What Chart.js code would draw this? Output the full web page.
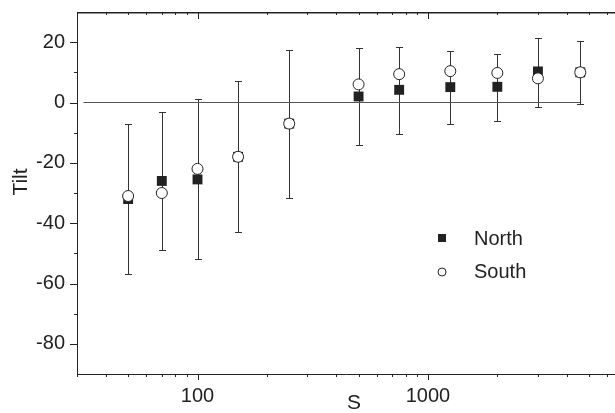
<!DOCTYPE html>
<html>
<head>
<meta charset="utf-8">
<script src="https://cdn.jsdelivr.net/npm/chart.js@4/dist/chart.umd.min.js"></script>
<style>
  html, body { margin: 0; padding: 0; background: #fff; overflow: hidden; }
  canvas { display: block; }
</style>
</head>
<body>
<canvas id="myChart" width="615" height="413"></canvas>
<script>
// values
const sizes = [50, 70, 100, 150, 250, 500, 750, 1250, 2000, 3000, 4580]
const north = [-32, -26, -25.5, -18, -7, 2, 4.2, 5.1, 5.2, 10.3, 10]
const south = [-31, -30, -22, -18, -7, 6, 9.4, 10.4, 9.8, 8, 10]
const northHigh = [-7, -3, 1, 7, 17.5, 18, 18.5, 17, 16.2, 21.4, 20.5]
const northLow = [-57, -49, -52, -43, -31.5, -14, -10.5, -7, -6, -1.5, -0.5]
const zeroLineX = [32, 4580]

const xMajor = [100, 1000]
const xMinor = [30, 40, 50, 60, 70, 80, 90, 200, 300, 400, 500, 600, 700, 800, 900, 2000, 3000, 4000, 5000, 6000]
const yMajor = [-80, -60, -40, -20, 0, 20]
const yMinor = [-70, -50, -30, -10, 10]
const yTop = 30

const FONT = "'Liberation Sans', Arial, sans-serif"
const INK = '#222'

const toPoints = (xs, ys) => xs.map((x, i) => ({ x: x, y: ys[i] }))

// frame top and tick marks of different lengths, placed through the scales
const tickMarks = {
  id: 'tickMarks',
  afterDraw(chart) {
    const ctx = chart.ctx
    const x = chart.scales.x
    const y = chart.scales.y
    const left = Math.round(x.getPixelForValue(xMinor[0]))
    const right = chart.width
    const top = Math.round(y.getPixelForValue(yTop))
    const bottom = Math.round(y.getPixelForValue(-90))
    ctx.save()
    ctx.fillStyle = INK
    // top frame line
    ctx.fillRect(left, top, right - left, 1.5)
    xMajor.concat(xMinor).forEach(v => {
      const big = xMajor.includes(v)
      const px = Math.round(x.getPixelForValue(v))
      ctx.fillRect(px, bottom, 1, big ? 6 : 3)
      ctx.fillRect(px, top, 1, big ? 7 : 3)
    })
    yMajor.concat(yMinor).forEach(v => {
      const big = yMajor.includes(v)
      const py = Math.round(y.getPixelForValue(v))
      const len = big ? 7 : 3
      ctx.fillRect(left - len, py, len, 1)
    })

    // axis titles
    ctx.font = '21px ' + FONT
    ctx.textAlign = 'center'
    ctx.textBaseline = 'middle'
    ctx.fillText('S', 354, 403)
    ctx.translate(21, 182)
    ctx.rotate(-Math.PI / 2)
    ctx.fillText('Tilt', 0, 0)
    ctx.restore()
  }
}

// error bars on the North series
const errorBars = {
  id: 'errorBars',
  beforeDatasetsDraw(chart) {
    const ctx = chart.ctx
    const x = chart.scales.x
    const y = chart.scales.y
    ctx.save()
    ctx.strokeStyle = '#333'
    ctx.lineWidth = 1
    ctx.beginPath()
    sizes.forEach((s, i) => {
      const px = Math.round(x.getPixelForValue(s)) + 0.5
      const hi = Math.round(y.getPixelForValue(northHigh[i])) + 0.5
      const lo = Math.round(y.getPixelForValue(northLow[i])) + 0.5
      ctx.moveTo(px, hi); ctx.lineTo(px, lo)
      ctx.moveTo(px - 3.5, hi); ctx.lineTo(px + 3.5, hi)
      ctx.moveTo(px - 3.5, lo); ctx.lineTo(px + 3.5, lo)
    })
    ctx.stroke()
    ctx.restore()
  }
}

// legend sitting inside the plot
const insideLegend = {
  id: 'insideLegend',
  afterDraw(chart) {
    const ctx = chart.ctx
    const ds = chart.data.datasets
    ctx.save()
    ctx.font = '20px ' + FONT
    ctx.textBaseline = 'middle'
    ctx.textAlign = 'left'
    ctx.fillStyle = INK
    ctx.fillRect(438, 234, 8, 8)
    ctx.fillText(ds[1].label, 474, 239)
    ctx.beginPath()
    ctx.arc(442, 272, 4, 0, Math.PI * 2)
    ctx.fillStyle = '#fff'
    ctx.fill()
    ctx.strokeStyle = INK
    ctx.lineWidth = 1
    ctx.stroke()
    ctx.fillStyle = INK
    ctx.fillText(ds[0].label, 474, 272)
    ctx.restore()
  }
}

const ctx = document.getElementById('myChart').getContext('2d')
const chart = new Chart(ctx, {
  type: 'scatter',
  data: {
    datasets: [
      {
        label: 'South',
        data: toPoints(sizes, south),
        pointStyle: 'circle',
        pointRadius: 5.5,
        backgroundColor: '#fff',
        borderColor: INK,
        borderWidth: 1,
        order: 0
      },
      {
        label: 'North',
        data: toPoints(sizes, north),
        pointStyle: 'rect',
        pointRadius: 7,
        backgroundColor: INK,
        borderColor: INK,
        borderWidth: 0,
        order: 1
      },
      {
        label: 'zero',
        data: toPoints(zeroLineX, [0, 0]),
        showLine: true,
        borderColor: '#555',
        borderWidth: 1,
        pointRadius: 0,
        order: 2
      }
    ]
  },
  options: {
    responsive: false,
    animation: false,
    devicePixelRatio: 1,
    layout: { autoPadding: false, padding: { top: 12, left: 0, right: 0, bottom: 0 } },
    plugins: {
      legend: { display: false },
      tooltip: { enabled: false }
    },
    scales: {
      x: {
        type: 'logarithmic',
        position: 'bottom',
        min: 30,
        max: 6480,
        afterBuildTicks: s => { s.ticks = xMajor.concat(xMinor).map(v => ({ value: v })) },
        afterFit: s => { s.height = 39; s.paddingLeft = 0; s.paddingRight = 0 },
        grid: { display: true, drawOnChartArea: false, drawTicks: false },
        border: { display: true, color: INK, width: 1 },
        ticks: {
          autoSkip: false,
          maxRotation: 0,
          padding: 10,
          color: INK,
          font: { family: FONT, size: 20 },
          callback: v => xMajor.includes(v) ? String(v) : ''
        }
      },
      y: {
        min: -90,
        max: yTop,
        afterFit: s => { s.width = 77; s.paddingTop = 0; s.paddingBottom = 0 },
        grid: { display: true, drawOnChartArea: false, drawTicks: false },
        border: { display: true, color: INK, width: 1 },
        ticks: {
          stepSize: 10,
          padding: 12,
          color: INK,
          font: { family: FONT, size: 20 },
          callback: v => yMajor.includes(v) ? String(v) : ''
        }
      }
    }
  },
  plugins: [errorBars, tickMarks, insideLegend]
})
</script>
</body>
</html>
